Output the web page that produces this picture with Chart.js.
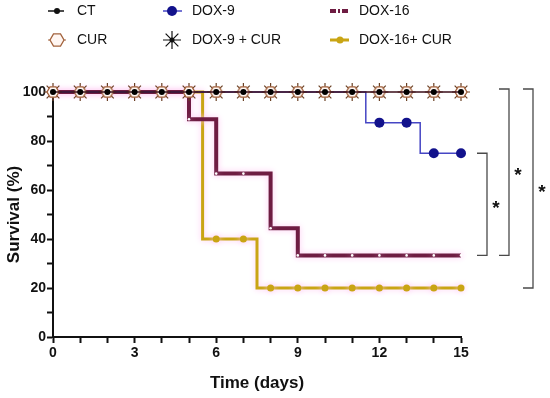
<!DOCTYPE html>
<html>
<head>
<meta charset="utf-8">
<script src="https://cdn.jsdelivr.net/npm/chart.js@4.4.0/dist/chart.umd.min.js"></script>
<style>
  html, body { margin: 0; padding: 0; background: #fff; }
  #wrap { width: 550px; height: 398px; }
</style>
</head>
<body>
<div id="wrap"><canvas id="myChart" width="550" height="398"></canvas></div>
<script>
// survival data
const days = [0, 1, 2, 3, 4, 5, 6, 7, 8, 9, 10, 11, 12, 13, 14, 15];
const ctSurvival = [100, 100, 100, 100, 100, 100, 100, 100, 100, 100, 100, 100, 100, 100, 100, 100];
const curSurvival = [100, 100, 100, 100, 100, 100, 100, 100, 100, 100, 100, 100, 100, 100, 100, 100];
const dox9CurSurvival = [100, 100, 100, 100, 100, 100, 100, 100, 100, 100, 100, 100, 100, 100, 100, 100];
const dox9Time = [0, 1, 2, 3, 4, 5, 6, 7, 8, 9, 10, 11, 11.5, 12, 13, 13.5, 14, 15];
const dox9Survival = [100, 100, 100, 100, 100, 100, 100, 100, 100, 100, 100, 100, 87.5, 87.5, 87.5, 75, 75, 75];
const dox16Survival = [100, 100, 100, 100, 100, 88.9, 66.7, 66.7, 44.4, 33.3, 33.3, 33.3, 33.3, 33.3, 33.3, 33.3];
const dox16CurTime = [0, 1, 2, 3, 4, 5, 5.5, 6, 7, 7.5, 8, 9, 10, 11, 12, 13, 14, 15];
const dox16CurSurvival = [100, 100, 100, 100, 100, 100, 40, 40, 40, 20, 20, 20, 20, 20, 20, 20, 20, 20];
const xTicks = [0, 3, 6, 9, 12, 15];
const yTicks = [0, 20, 40, 60, 80, 100];
// significance brackets: [top value, bottom value]
const brackets = [[75, 33.3], [100, 33.3], [100, 20]];

const toPts = (xs, ys) => xs.map((x, i) => ({ x: x, y: ys[i] }));
const onDay = (ctx, r) => (Number.isInteger(ctx.raw.x) ? r : 0);

// hexagon marker
function hexImage(r) {
  const c = document.createElement("canvas");
  const s = r * 2 + 4;
  c.width = s; c.height = s;
  const g = c.getContext("2d");
  g.beginPath();
  for (let k = 0; k < 6; k++) {
    const a = Math.PI / 3 * k;
    const px = s / 2 + r * Math.cos(a), py = s / 2 + r * Math.sin(a);
    if (k === 0) g.moveTo(px, py); else g.lineTo(px, py);
  }
  g.closePath();
  g.fillStyle = "#fff6f2";
  g.fill();
  g.strokeStyle = "#a2623c";
  g.lineWidth = 1.3;
  g.stroke();
  return c;
}
const hex = hexImage(6);
const hexLegend = hexImage(7);

const glowSets = ["DOX-16", "DOX-16+ CUR"];
const glowPlugin = {
  id: "glow",
  beforeDatasetDraw(chart, args) {
    const lbl = chart.data.datasets[args.index].label;
    chart.ctx.save();
    if (glowSets.includes(lbl)) {
      chart.ctx.shadowColor = "rgba(255,200,242,1)";
      chart.ctx.shadowBlur = 6;
    }
  },
  afterDatasetDraw(chart) {
    chart.ctx.restore();
  },
};

const bracketPlugin = {
  id: "brackets",
  afterDraw(chart) {
    const ctx = chart.ctx;
    const y = chart.scales.y;
    const right = chart.chartArea.right;
    const offs = [16, 38, 62];
    ctx.save();
    ctx.strokeStyle = "#4a4a4a";
    ctx.lineWidth = 1.3;
    ctx.fillStyle = "#111";
    ctx.font = "bold 19px Arial, 'Liberation Sans'";
    ctx.textAlign = "center";
    ctx.textBaseline = "middle";
    brackets.forEach((b, i) => {
      let y1 = y.getPixelForValue(b[0]);
      if (b[0] === 100) y1 -= 3;
      const y2 = y.getPixelForValue(b[1]);
      const x0 = right + offs[i];
      ctx.beginPath();
      ctx.moveTo(x0, y1);
      ctx.lineTo(x0 + 10, y1);
      ctx.lineTo(x0 + 10, y2);
      ctx.lineTo(x0, y2);
      ctx.stroke();
      ctx.fillText("*", x0 + 19, (y1 + y2) / 2 + 4);
    });
    ctx.restore();
  },
};

// custom legend, 3 columns x 2 rows
const legendPlugin = {
  id: "gridLegend",
  afterDraw(chart) {
    const ctx = chart.ctx;
    ctx.save();
    ctx.font = "14px Arial, 'Liberation Sans'";
    ctx.fillStyle = "#111";
    ctx.textBaseline = "middle";
    const r1 = 11, r2 = 40;
    const items = [
      ["CT", 77, r1], ["DOX-9", 192, r1], ["DOX-16", 359, r1],
      ["CUR", 77, r2], ["DOX-9 + CUR", 192, r2], ["DOX-16+ CUR", 359, r2],
    ];
    items.forEach(t => ctx.fillText(t[0], t[1], t[2]));

    // CT
    ctx.strokeStyle = "#111"; ctx.lineWidth = 1.5;
    ctx.beginPath(); ctx.moveTo(48, r1); ctx.lineTo(64, r1); ctx.stroke();
    ctx.fillStyle = "#111";
    ctx.beginPath(); ctx.arc(57, r1, 3, 0, Math.PI * 2); ctx.fill();
    // DOX-9
    ctx.strokeStyle = "#4646c4"; ctx.lineWidth = 1.5;
    ctx.beginPath(); ctx.moveTo(163, r1); ctx.lineTo(182, r1); ctx.stroke();
    ctx.fillStyle = "#12128c";
    ctx.beginPath(); ctx.arc(172, r1, 5, 0, Math.PI * 2); ctx.fill();
    // DOX-16
    ctx.strokeStyle = "#6e1c42"; ctx.lineWidth = 4;
    ctx.setLineDash([6, 2, 2, 2]);
    ctx.beginPath(); ctx.moveTo(330, r1); ctx.lineTo(349, r1); ctx.stroke();
    ctx.setLineDash([]);
    // CUR
    ctx.strokeStyle = "#a2623c"; ctx.lineWidth = 1;
    ctx.beginPath(); ctx.moveTo(48, r2); ctx.lineTo(66, r2); ctx.stroke();
    ctx.drawImage(hexLegend, 57 - hexLegend.width / 2, r2 - hexLegend.height / 2);
    // DOX-9 + CUR
    ctx.strokeStyle = "#111"; ctx.lineWidth = 1.2;
    ctx.beginPath();
    for (let k = 0; k < 4; k++) {
      const a = Math.PI / 4 * k;
      ctx.moveTo(172 - 9 * Math.cos(a), r2 - 9 * Math.sin(a));
      ctx.lineTo(172 + 9 * Math.cos(a), r2 + 9 * Math.sin(a));
    }
    ctx.stroke();
    ctx.fillStyle = "#111";
    ctx.beginPath(); ctx.arc(172, r2, 2.5, 0, Math.PI * 2); ctx.fill();
    // DOX-16+ CUR
    ctx.strokeStyle = "#c9a514"; ctx.lineWidth = 3;
    ctx.beginPath(); ctx.moveTo(330, r2); ctx.lineTo(349, r2); ctx.stroke();
    ctx.fillStyle = "#c9a514";
    ctx.beginPath(); ctx.arc(340, r2, 3.5, 0, Math.PI * 2); ctx.fill();
    ctx.restore();
  },
};

const tickFont = { family: "Arial, 'Liberation Sans'", size: 14, weight: "bold" };
const titleFont = { family: "Arial, 'Liberation Sans'", size: 17, weight: "bold" };

const ctx = document.getElementById("myChart").getContext("2d");
window.grafica = new Chart(ctx, {
  type: "line",
  data: {
    datasets: [
      {
        label: "CT",
        data: toPts(days, ctSurvival),
        borderColor: "#3a0c18",
        borderWidth: 1.5,
        pointRadius: 3,
        pointBackgroundColor: "#000",
        pointBorderWidth: 0,
        stepped: "before",
        order: 0,
      },
      {
        label: "CUR",
        data: toPts(days, curSurvival),
        showLine: false,
        pointStyle: hex,
        order: 1,
      },
      {
        label: "DOX-9 + CUR",
        data: toPts(days, dox9CurSurvival),
        showLine: false,
        pointStyle: "star",
        pointRadius: 9,
        pointBorderColor: "#6a4024",
        pointBorderWidth: 1.2,
        order: 2,
      },
      {
        label: "DOX-9",
        data: toPts(dox9Time, dox9Survival),
        borderColor: "#4646c4",
        borderWidth: 1.5,
        pointRadius: (c) => onDay(c, 5),
        pointBackgroundColor: "#12128c",
        pointBorderWidth: 0,
        stepped: "before",
        order: 3,
      },
      {
        label: "DOX-16",
        data: toPts(days, dox16Survival),
        borderColor: "#6e1c42",
        borderWidth: 4,
        pointRadius: 1.3,
        pointBackgroundColor: "#fff",
        pointBorderWidth: 0,
        stepped: "before",
        order: 4,
      },
      {
        label: "DOX-16+ CUR",
        data: toPts(dox16CurTime, dox16CurSurvival),
        borderColor: "#c9a514",
        borderWidth: 3,
        pointRadius: (c) => onDay(c, 3.5),
        pointBackgroundColor: "#c9a514",
        pointBorderWidth: 0,
        stepped: "before",
        order: 5,
      },
    ],
  },
  options: {
    responsive: false,
    animation: false,
    clip: false,
    layout: { padding: { top: 92, right: 89, left: 0, bottom: 0 } },
    plugins: { legend: { display: false }, tooltip: { enabled: false } },
    scales: {
      x: {
        type: "linear",
        min: 0,
        max: 15,
        afterFit: (s) => { s.height = 61; },
        ticks: {
          stepSize: 1,
          autoSkip: false,
          maxRotation: 0,
          padding: 2,
          color: "#111",
          font: tickFont,
          callback: (v) => (xTicks.includes(v) ? v : ""),
        },
        grid: { drawOnChartArea: false, tickLength: 6, tickColor: "#111", tickWidth: 2 },
        border: { color: "#111", width: 2 },
        title: { display: true, text: "Time (days)", color: "#111", font: titleFont },
      },
      y: {
        min: 0,
        max: 100,
        afterFit: (s) => { s.width = 53; },
        ticks: {
          stepSize: 10,
          autoSkip: false,
          padding: 1,
          color: "#111",
          font: tickFont,
          callback: (v) => (yTicks.includes(v) ? v : ""),
        },
        grid: { drawOnChartArea: false, tickLength: 6, tickColor: "#111", tickWidth: 2 },
        border: { color: "#111", width: 2 },
        title: { display: true, text: "Survival (%)", color: "#111", font: titleFont },
      },
    },
  },
  plugins: [glowPlugin, bracketPlugin, legendPlugin],
});
</script>
</body>
</html>
